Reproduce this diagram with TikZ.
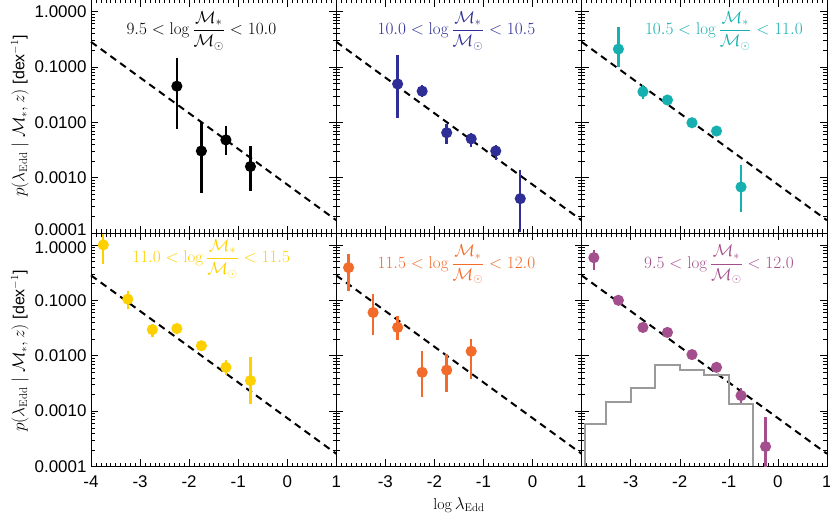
\documentclass[tikz,border=0pt]{standalone}
\usepackage{amsmath}
\usepackage{fontspec}
\newfontfamily\ticksf{Liberation Sans}
\usepackage{tikz}
\usetikzlibrary{positioning}
\definecolor{cblue}{HTML}{2E2E96}
\definecolor{ccyan}{HTML}{17B0B0}
\definecolor{cyell}{HTML}{FFD000}
\definecolor{corng}{HTML}{F26B2A}
\definecolor{cpurp}{HTML}{A34F8E}
\definecolor{chist}{HTML}{9A9A9A}
\newcommand{\massbin}[2]{$#1<\log\dfrac{\mathcal{M}_*}{\mathcal{M}_\odot}<#2$}
% one panel: frame, ticks and the dashed relation
\newcommand{\panelframe}{%
  \draw[thick] (-4,-4) rectangle (1,0.21);
  \foreach \t in {-4,...,1} {
    \draw (\t,-4) -- ++(0,7bp); \draw (\t,0.21) -- ++(0,-7bp);}
  \foreach \t in {-3.9,-3.8,...,0.95} {
    \draw (\t,-4) -- ++(0,3.5bp); \draw (\t,0.21) -- ++(0,-3.5bp);}
  \foreach \d in {-4,...,0} {
    \draw (-4,\d) -- ++(7bp,0); \draw (1,\d) -- ++(-7bp,0);
    \foreach \k in {2,...,9} {
      \pgfmathsetmacro{\lk}{\d+log10(\k)}
      \ifdim\lk pt<0.21pt
        \draw (-4,\lk) -- ++(3.5bp,0); \draw (1,\lk) -- ++(-3.5bp,0);
      \fi}}
  \draw[dashline] (-4,-0.55) -- (1,-3.77);}
% points with error bars: x/y/lo/hi
\newcommand{\datapts}[2]{%
  \begin{scope}
    \clip (-4,-4) rectangle (1,0.21);
    \foreach \x/\y/\lo/\hi in {#2} {
      \draw[errbar,#1] (\x,\lo) -- (\x,\hi);
      \fill[#1] (\x,\y) circle (5.6bp);}
  \end{scope}}
\begin{document}
\begin{tikzpicture}[x=49.06bp,y=55.4bp,
    dashline/.style={line width=2bp,dash pattern=on 7bp off 5bp},
    errbar/.style={line width=2.4bp},
    bintext/.style={font=\fontsize{17}{19}\selectfont},
    ticktext/.style={font=\ticksf\fontsize{17}{19}\selectfont}]
  \useasboundingbox (0,0) rectangle (830bp,514bp);
  % top row
  \begin{scope}[shift={(91bp,281bp)},shift={(4,4)}]
    \panelframe
    \datapts{black}{-2.25/-1.35/-0.85/-2.12, -1.75/-2.52/-2.0/-3.28,
      -1.25/-2.32/-2.06/-2.6, -0.75/-2.8/-2.43/-3.25}
    \node[bintext] (bin1) at (-1.75,-0.35) {\massbin{9.5}{10.0}};
    \foreach \t/\lab in {0/1.0000,-1/0.1000,-2/0.0100,-3/0.0010}
      \node[ticktext,anchor=east] (yt\t) at (-4.02,\t) {\lab};
    \node[ticktext,anchor=east] (yt-4) at ([yshift=3bp]-4.02,-4) {0.0001};
  \end{scope}
  \begin{scope}[shift={(336.3bp,281bp)},shift={(4,4)}]
    \panelframe
    \datapts{cblue}{-2.75/-1.31/-0.79/-1.92, -2.25/-1.44/-1.33/-1.55,
      -1.75/-2.19/-2.04/-2.4, -1.25/-2.3/-2.2/-2.45,
      -0.75/-2.52/-2.41/-2.68, -0.25/-3.38/-2.86/-3.98}
    \node[bintext,text=cblue] (bin2) at (-1.55,-0.35) {\massbin{10.0}{10.5}};
  \end{scope}
  \begin{scope}[shift={(581.6bp,281bp)},shift={(4,4)}]
    \panelframe
    \datapts{ccyan}{-3.25/-0.68/-0.28/-1.0, -2.75/-1.45/-1.32/-1.58,
      -2.25/-1.6/-1.55/-1.65, -1.75/-2.01/-1.96/-2.06,
      -1.25/-2.16/-2.11/-2.21, -0.75/-3.17/-2.77/-3.62}
    \node[bintext,text=ccyan] (bin3) at (-1.1,-0.35) {\massbin{10.5}{11.0}};
  \end{scope}
  % bottom row
  \begin{scope}[shift={(91bp,47.5bp)},shift={(4,4)}]
    \panelframe
    \datapts{cyell}{-3.75/0.0/0.2/-0.35, -3.25/-0.98/-0.83/-1.16,
      -2.75/-1.53/-1.42/-1.66, -2.25/-1.51/-1.46/-1.56,
      -1.75/-1.82/-1.77/-1.87, -1.25/-2.21/-2.08/-2.34,
      -0.75/-2.45/-2.03/-2.88}
    \node[bintext,text=cyell] (bin4) at (-1.55,-0.25) {\massbin{11.0}{11.5}};
    \node[ticktext,anchor=east] (ybt0) at ([yshift=-3bp]-4.02,0) {1.0000};
    \foreach \t/\lab in {-1/0.1000,-2/0.0100,-3/0.0010,-4/0.0001}
      \node[ticktext,anchor=east] (ybt\t) at (-4.02,\t) {\lab};
    \foreach \t in {-4,...,1}
      \node[ticktext,anchor=north] (xa\t) at (\t,-4.1) {\t};
  \end{scope}
  \begin{scope}[shift={(336.3bp,47.5bp)},shift={(4,4)}]
    \panelframe
    \datapts{corng}{-3.75/-0.41/-0.17/-0.84, -3.25/-1.22/-0.89/-1.62,
      -2.75/-1.49/-1.28/-1.71, -2.25/-2.3/-1.92/-2.74,
      -1.75/-2.26/-1.97/-2.65, -1.25/-1.92/-1.7/-2.42}
    \node[bintext,text=corng] (bin5) at (-1.55,-0.35) {\massbin{11.5}{12.0}};
    \foreach \t in {-3,...,1}
      \node[ticktext,anchor=north] (xb\t) at (\t,-4.1) {\t};
  \end{scope}
  \begin{scope}[shift={(581.6bp,47.5bp)},shift={(4,4)}]
    \panelframe
    \draw[chist,line width=2bp] (-3.93,-4) -- (-3.93,-3.24) -- (-3.5,-3.24)
      -- (-3.5,-2.84) -- (-3,-2.84) -- (-3,-2.59) -- (-2.5,-2.59)
      -- (-2.5,-2.17) -- (-2,-2.17) -- (-2,-2.25) -- (-1.5,-2.25)
      -- (-1.5,-2.34) -- (-1,-2.34) -- (-1,-2.88) -- (-0.5,-2.88) -- (-0.5,-4);
    \datapts{cpurp}{-3.75/-0.23/-0.1/-0.45, -3.25/-1.0/-0.95/-1.08,
      -2.75/-1.49/-1.44/-1.54, -2.25/-1.58/-1.53/-1.63,
      -1.75/-1.98/-1.93/-2.03, -1.25/-2.21/-2.16/-2.26,
      -0.75/-2.72/-2.58/-2.85, -0.25/-3.64/-3.11/-4.2}
    \node[bintext,text=cpurp] (bin6) at (-1.2,-0.35) {\massbin{9.5}{12.0}};
    \foreach \t in {-3,...,1}
      \node[ticktext,anchor=north] (xc\t) at (\t,-4.1) {\t};
  \end{scope}
  % axis titles
  \node[font=\fontsize{16}{18}\selectfont] (xlab) at (459bp,9bp) {$\log\lambda_{\rm Edd}$};
  \foreach \yc/\nm in {398/ylabA,163/ylabB}
    \node[rotate=90,font=\fontsize{16}{18}\selectfont] (\nm) at (20bp,\yc bp)
      {$p(\lambda_{\rm Edd}\mid\mathcal{M}_*,z)$ {\ticksf[dex$^{-1}$]}};
\end{tikzpicture}
\end{document}
